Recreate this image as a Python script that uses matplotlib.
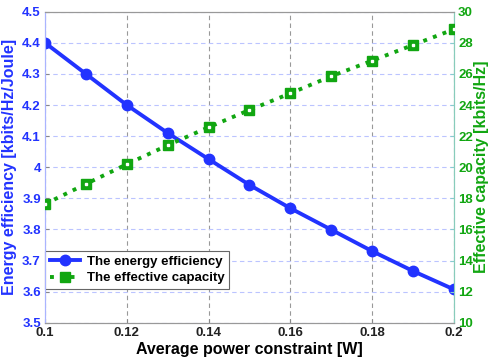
import matplotlib
matplotlib.use("Agg")
import matplotlib.pyplot as plt

power = [0.10, 0.11, 0.12, 0.13, 0.14, 0.15, 0.16, 0.17, 0.18, 0.19, 0.20]
energy_eff = [4.40, 4.30, 4.20, 4.11, 4.026, 3.943, 3.868, 3.799, 3.730, 3.666, 3.607]
eff_cap = [17.63, 18.92, 20.19, 21.41, 22.57, 23.68, 24.75, 25.85, 26.85, 27.86, 28.87]
x_ticks = [0.1, 0.12, 0.14, 0.16, 0.18, 0.2]
x_ticklabels = ["0.1", "0.12", "0.14", "0.16", "0.18", "0.2"]
y1_ticks = [3.5, 3.6, 3.7, 3.8, 3.9, 4.0, 4.1, 4.2, 4.3, 4.4, 4.5]
y1_ticklabels = ["3.5", "3.6", "3.7", "3.8", "3.9", "4", "4.1", "4.2", "4.3", "4.4", "4.5"]
y2_ticks = [10, 12, 14, 16, 18, 20, 22, 24, 26, 28, 30]

plt.rcParams['font.family'] = ['Liberation Sans', 'DejaVu Sans']
blue = '#2233ff'
green = '#11a611'

fig = plt.figure(figsize=(4.91, 3.6), dpi=100)
ax = fig.add_axes([0.0916, 0.1036, 0.8330, 0.8639])
ax2 = ax.twinx()

l1, = ax.plot(power, energy_eff, '-o', color=blue, lw=2.8, ms=7.5, label='The energy efficiency', zorder=3)
l2, = ax2.plot(power, eff_cap, ':s', color=green, lw=2.8, ms=6.5, mfc=green, mec=green,
               label='The effective capacity', zorder=3)
# white centers of squares
ax2.plot(power, eff_cap, 's', ms=1.8, color='white', mec='white', zorder=4)

ax.set_xlim(0.1, 0.2)
ax.set_ylim(3.5, 4.5)
ax2.set_ylim(10, 30)
ax.set_xticks(x_ticks)
ax.set_xticklabels(x_ticklabels)
ax.set_yticks(y1_ticks)
ax.set_yticklabels(y1_ticklabels)
ax2.set_yticks(y2_ticks)

for t in ax.get_xticklabels():
    t.set_fontweight('bold'); t.set_fontsize(9.5); t.set_color('#222222')
for t in ax.get_yticklabels():
    t.set_fontweight('bold'); t.set_fontsize(9.5); t.set_color(blue)
for t in ax2.get_yticklabels():
    t.set_fontweight('bold'); t.set_fontsize(9.5); t.set_color(green)

ax.tick_params(axis='both', direction='in', length=3, pad=3, color='#888888')
ax2.tick_params(axis='y', direction='in', length=3, pad=3, color='#88cccc')

ax.xaxis.grid(True, linestyle=(0, (4, 3)), color='#999999', lw=0.8)
ax.yaxis.grid(True, linestyle=(0, (4, 3)), color='#bbc4ff', lw=0.8)
ax.set_axisbelow(True)

ax.set_xlabel('Average power constraint [W]', fontsize=11.5, fontweight='bold', labelpad=2)
ax.set_ylabel('Energy efficiency [kbits/Hz/Joule]', fontsize=11.5, fontweight='bold', color=blue, labelpad=4)
ax2.set_ylabel('Effective capacity [kbits/Hz]', fontsize=11.5, fontweight='bold', color=green, labelpad=1)

for a in (ax, ax2):
    a.spines['left'].set_color('#aab4ff')
    a.spines['right'].set_color('#88ccbb')
    a.spines['top'].set_color('#999999')
    a.spines['bottom'].set_color('#999999')

leg = ax.legend(handles=[l1, l2], loc='lower left', bbox_to_anchor=(0.0, 0.108),
                borderaxespad=0, fancybox=False, framealpha=1, edgecolor='#666666',
                prop={'weight': 'bold', 'size': 9.5}, handlelength=2.3,
                borderpad=0.35, labelspacing=0.35, handletextpad=0.5)
leg.get_frame().set_linewidth(0.8)
leg.set_zorder(10)

fig.savefig('out.png', dpi=100)
